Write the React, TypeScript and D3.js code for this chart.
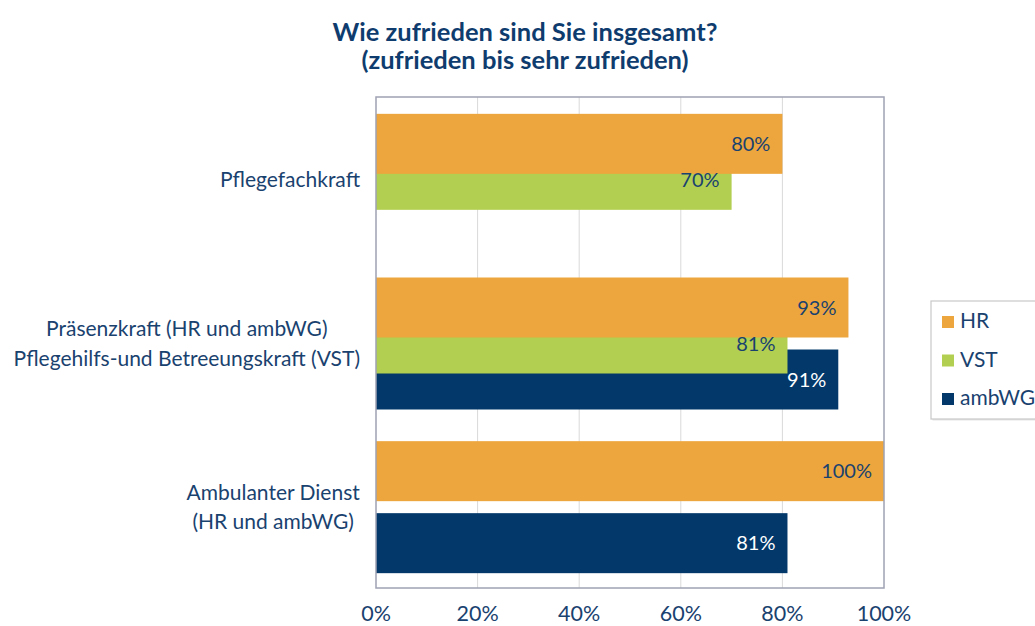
import React from "react";
import { scaleBand, scaleLinear } from "d3";

const categories = [
  ["Pflegefachkraft"],
  ["Präsenzkraft (HR und ambWG)", "Pflegehilfs-und Betreeungskraft (VST)"],
  ["Ambulanter Dienst", "(HR und ambWG)"],
];
const seriesNames = ["HR", "VST", "ambWG"];
const hrValues = [80, 93, 100];
const vstValues = [70, 81, null];
const ambwgValues = [null, 91, 81];
const xTicks = [0, 20, 40, 60, 80, 100];

const colors = ["#EDA63D", "#B3CF51", "#02386A"];
const labelColors = ["#1A426F", "#1A426F", "#FFFFFF"];
const textColor = "#1A426F";
const font = "Lato, 'Open Sans', sans-serif";

// width of a text line, so multi-line category labels can be centred as a block
const measure = (text: string, size: number) => {
  const ctx = document.createElement("canvas").getContext("2d");
  if (!ctx) return text.length * size * 0.5;
  ctx.font = `${size}px Lato, 'Open Sans', sans-serif`;
  return ctx.measureText(text).width;
};

export const App = () => {
  const width = 1035;
  const height = 626;
  const margin = { top: 97, right: 151, bottom: 38, left: 376 };
  const innerWidth = width - margin.left - margin.right;
  const innerHeight = height - margin.top - margin.bottom;

  const values = [hrValues, vstValues, ambwgValues];
  const keys = categories.map((c) => c.join(" "));

  const yScale = scaleBand().domain(keys).range([0, innerHeight]);
  const xScale = scaleLinear().domain([0, 100]).range([0, innerWidth]);

  const barH = 60;
  const step = 36;
  const groupH = barH + step * (seriesNames.length - 1);
  const groupOffset = (yScale.bandwidth() - groupH) / 2 + 1;

  const catSize = 21;
  const catRight = -16;

  // draw later series first so HR sits on top (overlap like the original)
  const order = seriesNames.map((_, i) => i).reverse();

  return (
    <svg
      width={width}
      height={height}
      style={{ position: "absolute", left: 0, top: 0, fontFamily: font }}
    >
      <rect width={width} height={height} fill="#fff" />
      <text
        x={525}
        y={41}
        textAnchor="middle"
        fontSize={25.5}
        fontWeight="bold"
        fill="#0F3C6E"
      >
        Wie zufrieden sind Sie insgesamt?
      </text>
      <text
        x={525}
        y={69}
        textAnchor="middle"
        fontSize={25.5}
        fontWeight="bold"
        fill="#0F3C6E"
      >
        (zufrieden bis sehr zufrieden)
      </text>

      <g transform={`translate(${margin.left},${margin.top})`}>
        {xTicks.slice(1, -1).map((t) => (
          <line
            key={t}
            x1={xScale(t)}
            x2={xScale(t)}
            y1={0}
            y2={innerHeight}
            stroke="#D9D9D9"
            strokeWidth={1}
          />
        ))}

        {order.map((si) =>
          keys.map((k, ci) => {
            const v = values[si][ci];
            if (v == null) return null;
            const y = (yScale(k) as number) + groupOffset + si * step;
            return (
              <rect
                key={`${si}-${ci}`}
                x={0}
                y={y}
                width={xScale(v)}
                height={barH}
                fill={colors[si]}
              />
            );
          })
        )}

        {order.map((si) =>
          keys.map((k, ci) => {
            const v = values[si][ci];
            if (v == null) return null;
            const y = (yScale(k) as number) + groupOffset + si * step;
            return (
              <text
                key={`l-${si}-${ci}`}
                x={xScale(v) - 12}
                y={y + barH / 2 + 2}
                textAnchor="end"
                dominantBaseline="middle"
                fontSize={20}
                fill={labelColors[si]}
              >
                {v}%
              </text>
            );
          })
        )}

        <rect
          x={0}
          y={0}
          width={innerWidth}
          height={innerHeight}
          fill="none"
          stroke="#9EA3B3"
          strokeWidth={1.5}
        />

        {categories.map((lines, ci) => {
          const cy = (yScale(keys[ci]) as number) + yScale.bandwidth() / 2 + 3;
          const lh = 29.5;
          const maxW = Math.max(...lines.map((l) => measure(l, catSize)));
          const cx = catRight - maxW / 2;
          return (
            <text
              key={ci}
              textAnchor="middle"
              fontSize={catSize}
              fill={textColor}
            >
              {lines.map((l, li) => (
                <tspan
                  key={li}
                  x={cx}
                  y={cy + (li - (lines.length - 1) / 2) * lh}
                  dominantBaseline="middle"
                >
                  {l}
                </tspan>
              ))}
            </text>
          );
        })}

        {xTicks.map((t) => (
          <text
            key={t}
            x={xScale(t)}
            y={innerHeight + 28}
            textAnchor="middle"
            dominantBaseline="middle"
            fontSize={21.5}
            fill={textColor}
          >
            {t}%
          </text>
        ))}
      </g>

      <g transform="translate(931,301)">
        <rect
          x={1.5}
          y={1.5}
          width={120}
          height={118}
          fill="#E6E6E6"
        />
        <rect
          x={0}
          y={0}
          width={120}
          height={118}
          fill="#fff"
          stroke="#C8C8C8"
          strokeWidth={1.2}
        />
        {seriesNames.map((s, i) => (
          <g key={s} transform={`translate(11,${15 + i * 38.5})`}>
            <rect width={12} height={12} fill={colors[i]} />
            <text
              x={18}
              y={7}
              dominantBaseline="middle"
              fontSize={21}
              fill={textColor}
            >
              {s}
            </text>
          </g>
        ))}
      </g>
    </svg>
  );
};

export default App;
